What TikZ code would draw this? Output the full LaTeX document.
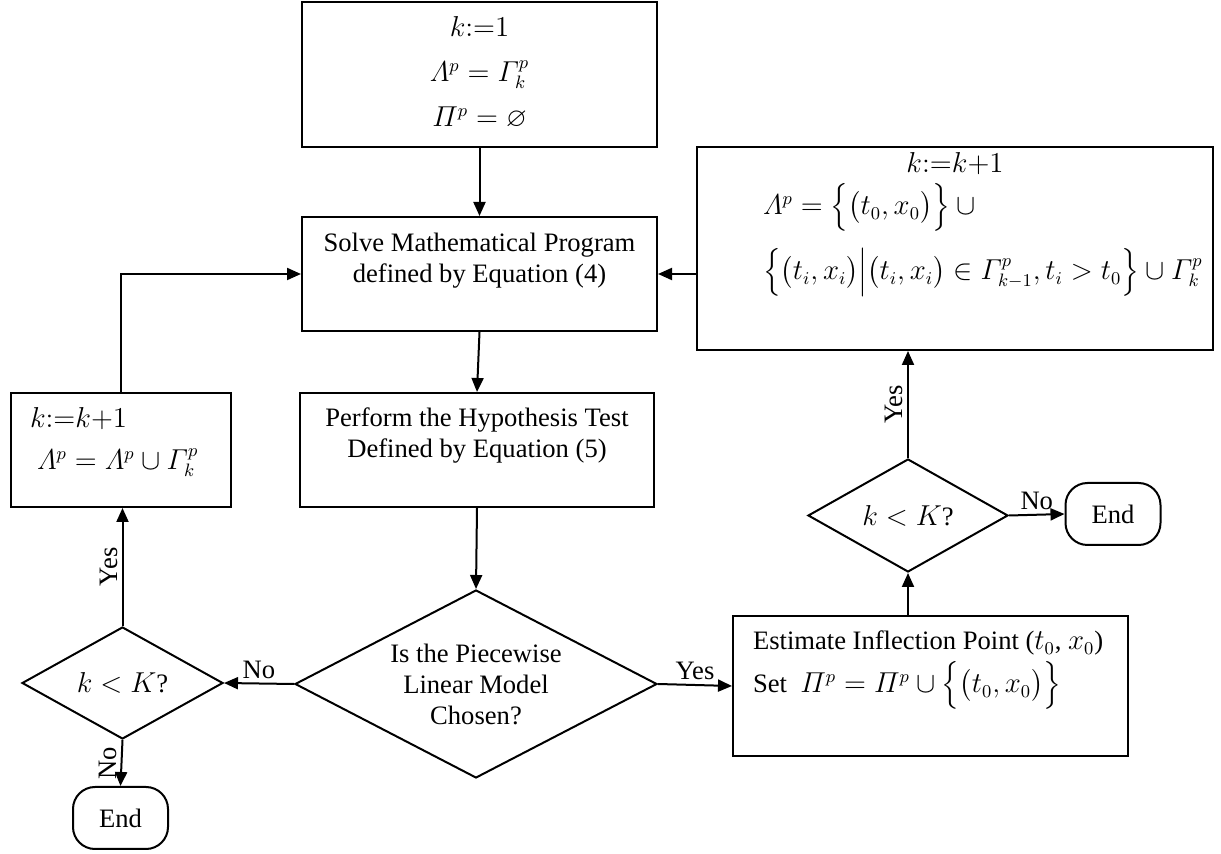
\documentclass[tikz,border=0pt]{standalone}
\usepackage{amsmath}
\usepackage{amssymb}
\usepackage{fontspec}
\setmainfont{Liberation Serif}
\usetikzlibrary{shapes.geometric, arrows.meta}
\newcommand{\linesetup}{\baselineskip=15.5pt\lineskiplimit=-100pt\lineskip=0pt}

\begin{document}
\begin{tikzpicture}[
    x = 0.5pt, y = -0.5pt,
    line width = 1pt,
    > = {Triangle[length = 7pt, width = 6pt]},
    every node/.style = {font = \fontsize{13.3}{15.5}\selectfont},
    process/.style = {draw, inner sep = 0pt},
    decision/.style = {draw, diamond, inner sep = 0pt, align = center},
    terminal/.style = {draw,
      rounded corners = 11pt,
      minimum width = 47.5pt,
      minimum height = 31pt},
    answer/.style = {inner sep = 2pt},
    ]

    \useasboundingbox (0, 0) rectangle (1221, 854);

    \node at (479.5, 74.5)
    [process, name = init] {\parbox[c][72.5pt][t]{177.5pt}{\linesetup\centering
        \rule{0pt}{17.5pt}$k{:=}1$\\[7pt]
        $\varLambda^p = \varGamma_k^p$\\[7pt]
        $\varPi^p = \varnothing$}};

    \node at (479.5, 274)
    [process, name = solve] {\parbox[c][57pt][t]{177.5pt}{\linesetup\centering
        \rule{0pt}{17.5pt}Solve Mathematical Program\\
        defined by Equation (4)}};

    \node at (477, 450)
    [process, name = test] {\parbox[c][57pt][t]{177pt}{\linesetup\centering
        \rule{0pt}{17pt}Perform the Hypothesis Test\\
        Defined by Equation (5)}};

    \node at (121, 450)
    [process, name = grow] {\parbox[c][57pt][t]{110pt}{\linesetup\raggedright
        \rule{0pt}{17.5pt}\hspace*{9.5pt}$k{:=}k{+}1$\\[5.5pt]
        \hspace*{13pt}$\varLambda^p = \varLambda^p \cup \varGamma_k^p$}};

    \node at (930.5, 686)
    [process, name = estimate] {\parbox[c][70pt][t]{197.5pt}{\linesetup\raggedright
        \rule{0pt}{17pt}\hspace*{10pt}Estimate Inflection Point ($t_0$, $x_0$)\\[6pt]
        \hspace*{10pt}Set \ $\varPi^p = \varPi^p \cup
        \Bigl\{\bigl(t_0, x_0\bigr)\Bigr\}$}};

    \node at (955, 248.5)
    [process, name = update] {\parbox[c][101.5pt][t]{258pt}{\linesetup
        {\centering\rule{0pt}{13pt}$k{:=}k{+}1$\par}
        \vspace{5.5pt}
        \raggedright
        \hspace*{33pt}$\varLambda^p = \Bigl\{\bigl(t_0, x_0\bigr)\Bigr\} \cup{}$\\[17pt]
        \hspace*{33pt}$\Bigl\{\bigl(t_i, x_i\bigr)\Big|\bigl(t_i, x_i\bigr)
        \in \varGamma_{k-1}^p, t_i > t_0\Bigr\} \cup \varGamma_k^p$}};

    \node at (476, 684)
    [decision, aspect = 1.93, minimum width = 181pt, minimum height = 94pt,
      name = choose]
    {Is the Piecewise\\Linear Model\\Chosen?};

    \node at (122.5, 683)
    [decision, aspect = 1.8, minimum width = 100.5pt, minimum height = 56pt,
      name = leftcheck]
    {$k < K$?};
    \node at (908, 515.5)
    [decision, aspect = 1.8, minimum width = 100pt, minimum height = 56.5pt,
      name = rightcheck]
    {$k < K$?};

    \node at (120.5, 818) [terminal, name = leftend] {End};
    \node at (1113, 514) [terminal, name = rightend] {End};

    \draw [->] (init.south) to (solve.north);
    \draw [->] (solve.south) to (test.north);
    \draw [->] (test.south) to (choose.north);

    \draw [->] (choose.west) to node [answer, above] {No} (leftcheck.east);
    \draw [->] (choose.east) to node [answer, above] {Yes} (estimate.west);

    \draw [->] (leftcheck.north) to node [answer, rotate = 90, anchor = south]
    {Yes} (leftcheck.north |- grow.south);
    \draw [->] (leftcheck.south) to node [answer, rotate = 90, anchor = south]
    {No} (leftend.north);
    \draw [->] (grow.north) |- (solve.west);

    \draw [->] (estimate.north -| rightcheck.south) to (rightcheck.south);
    \draw [->] (rightcheck.north) to node [answer, rotate = 90, anchor = south]
    {Yes} (rightcheck.north |- update.south);
    \draw [->] (rightcheck.east) to node [answer, above] {No} (rightend.west);
    \draw [->] (update.west |- solve.east) to (solve.east);
  \end{tikzpicture}
\end{document}
